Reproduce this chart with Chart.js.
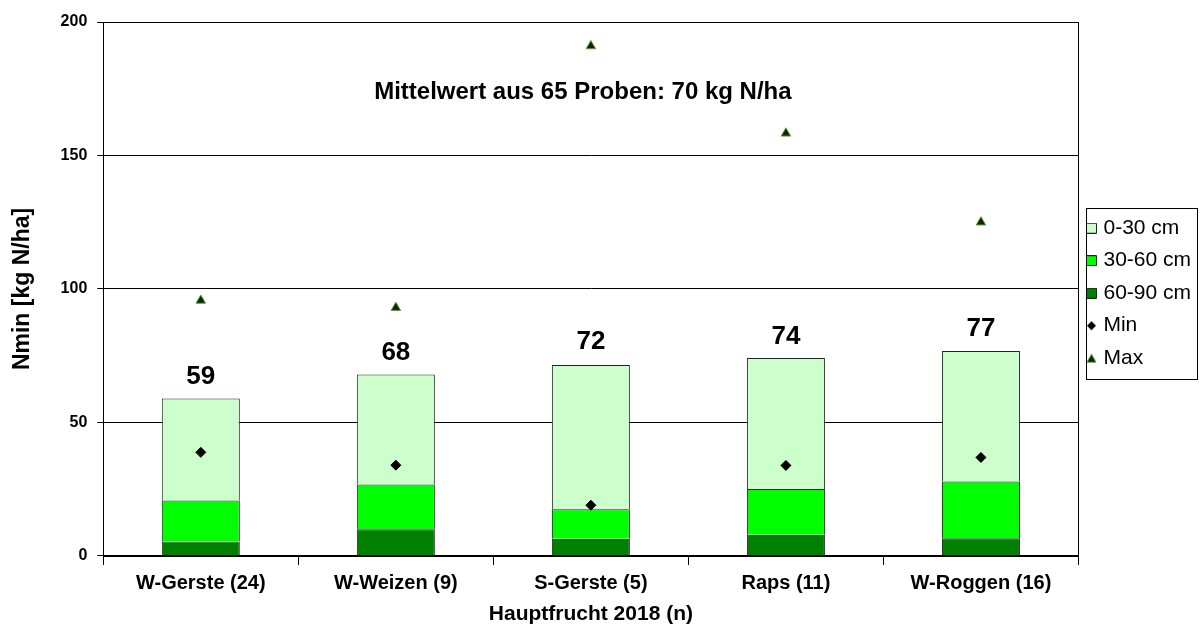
<!DOCTYPE html>
<html>
<head>
<meta charset="utf-8">
<script src="https://cdn.jsdelivr.net/npm/chart.js@4.4.0/dist/chart.umd.min.js"></script>
<style>
  body { margin: 0; background: #fff; }
  #wrap { width: 1201px; height: 628px; }
</style>
</head>
<body>
<div id="wrap"><canvas id="chart" width="1201" height="628"></canvas></div>
<script>
const crops = ['W-Gerste (24)', 'W-Weizen (9)', 'S-Gerste (5)', 'Raps (11)', 'W-Roggen (16)'];
const layer6090 = [5.4, 10.0, 6.4, 7.9, 6.6];
const layer3060 = [15.4, 16.8, 11.1, 17.2, 21.3];
const layer030 = [38.2, 41.2, 54.0, 49.0, 48.9];
const minValues = [38.8, 34.0, 19.0, 33.9, 36.9];
const maxValues = [95.7, 93.0, 191.0, 158.3, 125.0];
const totals = [59, 68, 72, 74, 77];
const meanText = 'Mittelwert aus 65 Proben: 70 kg N/ha';

const font = 'Liberation Sans, Arial, sans-serif';
const legendOrder = ['0-30 cm', '30-60 cm', '60-90 cm', 'Min', 'Max'];

// small marker images for the legend (library sizes them too large)
function marker(kind) {
  const c = document.createElement('canvas');
  c.width = 11; c.height = 11;
  const g = c.getContext('2d');
  g.beginPath();
  if (kind === 'diamond') {
    g.moveTo(5.5, 1); g.lineTo(10, 5.5); g.lineTo(5.5, 10); g.lineTo(1, 5.5);
    g.closePath();
    g.fillStyle = '#000'; g.fill();
  } else if (kind === 'triangle') {
    g.moveTo(5.5, 1.5); g.lineTo(10, 9.5); g.lineTo(1, 9.5);
    g.closePath();
    g.fillStyle = '#0d2600'; g.fill();
    g.strokeStyle = '#5c9e3a'; g.lineWidth = 1; g.stroke();
  } else {
    g.rect(0.5, 0.5, 10, 10);
    g.fillStyle = kind; g.fill();
    g.strokeStyle = '#222'; g.lineWidth = 1; g.stroke();
  }
  return c;
}

// frame around plot, legend box, totals above bars, mean text
const extras = {
  id: 'extras',
  afterDraw(chart) {
    const ctx = chart.ctx;
    const a = chart.chartArea;
    const x = chart.scales.x;
    const y = chart.scales.y;
    ctx.save();
    ctx.strokeStyle = '#000';
    ctx.lineWidth = 1;
    ctx.strokeRect(Math.round(a.left) + 0.5, Math.round(a.top) + 0.5,
      Math.round(a.right - a.left), Math.round(a.bottom - a.top));

    const boxes = chart.legend.legendHitBoxes;
    if (boxes && boxes.length) {
      const top = Math.min(...boxes.map(b => b.top)) - 10;
      const bottom = Math.max(...boxes.map(b => b.top + b.height)) + 10;
      const left = Math.min(...boxes.map(b => b.left)) - 4;
      const right = chart.width - 4;
      ctx.strokeRect(Math.round(left) + 0.5, Math.round(top) + 0.5,
        Math.round(right - left), Math.round(bottom - top));
    }

    ctx.fillStyle = '#000';
    ctx.textAlign = 'center';
    ctx.textBaseline = 'bottom';
    ctx.font = 'bold 26px ' + font;
    totals.forEach((t, i) => {
      ctx.fillText(t, x.getPixelForValue(i), y.getPixelForValue(t) - 9);
    });

    ctx.textBaseline = 'middle';
    ctx.font = 'bold 24px ' + font;
    ctx.fillText(meanText, (a.left + a.right) / 2 - 8, y.getPixelForValue(173.5));
    ctx.restore();
  }
};

const legendMarks = {
  '0-30 cm': marker('#ccffcc'),
  '30-60 cm': marker('#00ff00'),
  '60-90 cm': marker('#008000'),
  'Min': marker('diamond'),
  'Max': marker('triangle')
};

const ctx = document.getElementById('chart').getContext('2d');
new Chart(ctx, {
  data: {
    labels: crops,
    datasets: [
      { type: 'bar', label: '60-90 cm', data: layer6090, backgroundColor: '#008000',
        borderColor: '#222', borderWidth: 1, order: 3 },
      { type: 'bar', label: '30-60 cm', data: layer3060, backgroundColor: '#00ff00',
        borderColor: '#222', borderWidth: 1, order: 3 },
      { type: 'bar', label: '0-30 cm', data: layer030, backgroundColor: '#ccffcc',
        borderColor: '#222', borderWidth: 1, order: 3 },
      { type: 'line', label: 'Min', data: minValues, showLine: false, stack: 'min',
        pointStyle: 'rectRot', pointRadius: 5, pointBackgroundColor: '#000',
        pointBorderColor: '#000', backgroundColor: '#000', borderColor: '#000', order: 1 },
      { type: 'line', label: 'Max', data: maxValues, showLine: false, stack: 'max',
        pointStyle: 'triangle', pointRadius: 5.5, pointBackgroundColor: '#0d2600',
        pointBorderColor: '#5c9e3a', backgroundColor: '#0d2600', borderColor: '#5c9e3a',
        borderWidth: 1, order: 1 }
    ]
  },
  options: {
    responsive: false,
    animation: false,
    devicePixelRatio: 1,
    datasets: { bar: { categoryPercentage: 1, barPercentage: 0.4 } },
    layout: { padding: { top: 22, right: 0, left: 9, bottom: 3 } },
    plugins: {
      tooltip: { enabled: false },
      legend: {
        position: 'right',
        align: 'start',
        // empty title used as a spacer so the items sit mid-height
        title: { display: true, text: '', font: { size: 1 }, padding: { top: 183, bottom: 0 } },
        labels: {
          usePointStyle: true,
          pointStyleWidth: 3,
          boxHeight: 21,
          color: '#000',
          font: { family: font, size: 21 },
          padding: 11.5,
          generateLabels(chart) {
            const items = Chart.defaults.plugins.legend.labels.generateLabels(chart);
            items.forEach(it => { it.pointStyle = legendMarks[it.text]; });
            return items;
          },
          sort: (a, b) => legendOrder.indexOf(a.text) - legendOrder.indexOf(b.text)
        }
      }
    },
    scales: {
      x: {
        stacked: true,
        offset: true,
        grid: { offset: true, drawOnChartArea: false, color: '#000', tickLength: 9 },
        border: { color: '#000' },
        ticks: { color: '#000', font: { family: font, size: 20, weight: 'bold' }, padding: 7 },
        title: { display: true, text: 'Hauptfrucht 2018 (n)', color: '#000',
          font: { family: font, size: 21, weight: 'bold', lineHeight: 1.05 }, padding: { top: 0, bottom: 0 } }
      },
      y: {
        stacked: true,
        min: 0,
        max: 200,
        ticks: { stepSize: 50, color: '#000', font: { family: font, size: 16, weight: 'bold' }, padding: 10 },
        grid: { color: '#000', tickLength: 6 },
        border: { color: '#000' },
        title: { display: true, text: 'Nmin [kg N/ha]', color: '#000',
          font: { family: font, size: 23, weight: 'bold' }, padding: { top: 0, bottom: 14 } }
      }
    }
  },
  plugins: [extras]
});
</script>
</body>
</html>
